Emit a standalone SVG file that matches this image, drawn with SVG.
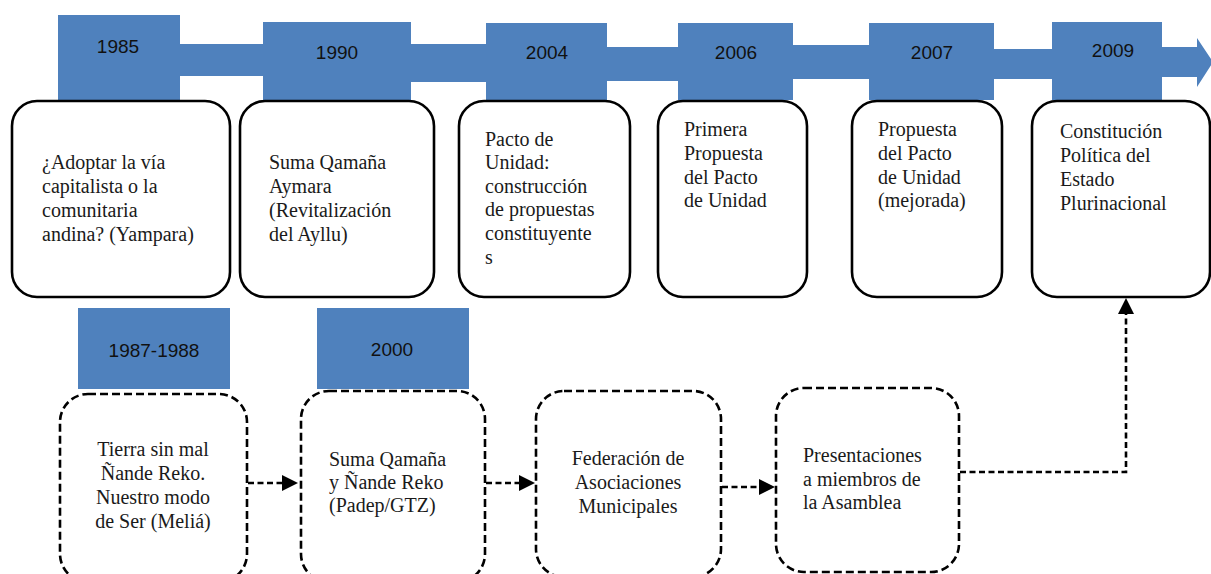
<svg xmlns="http://www.w3.org/2000/svg" width="1211" height="574" viewBox="0 0 1211 574">
<style>
.yr{fill:#4F81BD}
.yt{font-family:"Liberation Sans",Arial,sans-serif;font-size:19px;fill:#111;text-anchor:middle}
.box{fill:#fff;stroke:#000;stroke-width:2.6}
.dbox{fill:#fff;stroke:#000;stroke-width:2.6;stroke-dasharray:8 4}
.t{font-family:"Liberation Serif","Times New Roman",serif;font-size:20px;fill:#1a1a1a}
.c{text-anchor:middle}
.con{fill:none;stroke:#000;stroke-width:2.6;stroke-dasharray:6 3.5}
</style>
<defs>
<marker id="ah" markerUnits="userSpaceOnUse" markerWidth="16" markerHeight="16" refX="0" refY="8" orient="auto">
<path d="M0,0 L16,8 L0,16 z" fill="#000"/>
</marker>
</defs>

<g id="timeline">
<rect class="yr" x="178" y="44" width="88" height="32"/>
<rect class="yr" x="409" y="44" width="80" height="38"/>
<rect class="yr" x="605" y="47" width="75" height="34"/>
<rect class="yr" x="791" y="45" width="80" height="34"/>
<rect class="yr" x="992" y="49" width="62" height="30"/>
<polygon class="yr" points="1160,47 1197,47 1197,38 1213,62 1197,87 1197,77 1160,77"/>
</g>

<g id="y1985"><rect class="yr" x="58" y="15" width="122" height="85"/><text class="yt" x="118" y="53">1985</text></g>
<g id="y1990"><rect class="yr" x="263" y="22" width="148" height="78"/><text class="yt" x="337" y="59">1990</text></g>
<g id="y2004"><rect class="yr" x="486" y="23" width="121" height="77"/><text class="yt" x="547" y="59">2004</text></g>
<g id="y2006"><rect class="yr" x="678" y="23" width="115" height="77"/><text class="yt" x="736" y="59">2006</text></g>
<g id="y2007"><rect class="yr" x="869" y="23" width="125" height="77"/><text class="yt" x="932" y="59">2007</text></g>
<g id="y2009"><rect class="yr" x="1052" y="22" width="110" height="78"/><text class="yt" x="1113" y="57">2009</text></g>
<g id="y1987"><rect class="yr" x="78" y="308" width="152" height="81"/><text class="yt" x="154" y="357">1987-1988</text></g>
<g id="y2000"><rect class="yr" x="317" y="308" width="152" height="81"/><text class="yt" x="392" y="356">2000</text></g>

<g id="n1"><rect class="box" x="12" y="101" width="218" height="196" rx="25"/>
<text class="t" x="42" y="169">¿Adoptar la vía</text>
<text class="t" x="42" y="193">capitalista o la</text>
<text class="t" x="42" y="217">comunitaria</text>
<text class="t" x="42" y="241">andina? (Yampara)</text></g>

<g id="n2"><rect class="box" x="240" y="101" width="194" height="196" rx="25"/>
<text class="t" x="269" y="169">Suma Qamaña</text>
<text class="t" x="269" y="193">Aymara</text>
<text class="t" x="269" y="217">(Revitalización</text>
<text class="t" x="269" y="241">del Ayllu)</text></g>

<g id="n3"><rect class="box" x="459" y="101" width="171" height="196" rx="25"/>
<text class="t" x="485" y="146">Pacto de</text>
<text class="t" x="485" y="169">Unidad:</text>
<text class="t" x="485" y="193">construcción</text>
<text class="t" x="485" y="216">de propuestas</text>
<text class="t" x="485" y="240">constituyente</text>
<text class="t" x="485" y="264">s</text></g>

<g id="n4"><rect class="box" x="658" y="101" width="149" height="196" rx="25"/>
<text class="t" x="684" y="136">Primera</text>
<text class="t" x="684" y="160">Propuesta</text>
<text class="t" x="684" y="184">del Pacto</text>
<text class="t" x="684" y="207">de Unidad</text></g>

<g id="n5"><rect class="box" x="852" y="101" width="150" height="196" rx="25"/>
<text class="t" x="878" y="136">Propuesta</text>
<text class="t" x="878" y="160">del Pacto</text>
<text class="t" x="878" y="184">de Unidad</text>
<text class="t" x="878" y="207">(mejorada)</text></g>

<g id="n6"><rect class="box" x="1032" y="101" width="178" height="196" rx="25"/>
<text class="t" x="1060" y="138">Constitución</text>
<text class="t" x="1060" y="162">Política del</text>
<text class="t" x="1060" y="186">Estado</text>
<text class="t" x="1060" y="210">Plurinacional</text></g>

<g id="d1"><rect class="dbox" x="60" y="394" width="187" height="188" rx="28"/>
<text class="t c" x="153" y="456">Tierra sin mal</text>
<text class="t c" x="153" y="480">Ñande Reko.</text>
<text class="t c" x="153" y="504">Nuestro modo</text>
<text class="t c" x="153" y="528">de Ser (Meliá)</text></g>

<g id="d2"><rect class="dbox" x="301" y="391" width="184" height="191" rx="28"/>
<text class="t" x="329" y="466">Suma Qamaña</text>
<text class="t" x="329" y="489">y Ñande Reko</text>
<text class="t" x="329" y="512">(Padep/GTZ)</text></g>

<g id="d3"><rect class="dbox" x="536" y="391" width="185" height="186" rx="28"/>
<text class="t c" x="628" y="465">Federación de</text>
<text class="t c" x="628" y="489">Asociaciones</text>
<text class="t c" x="628" y="513">Municipales</text></g>

<g id="d4"><rect class="dbox" x="776" y="388" width="183" height="184" rx="28"/>
<text class="t" x="803" y="462">Presentaciones</text>
<text class="t" x="803" y="486">a miembros de</text>
<text class="t" x="803" y="509">la Asamblea</text></g>

<g id="connectors">
<path class="con" d="M248,483 H282" marker-end="url(#ah)"/>
<path class="con" d="M486,483 H519" marker-end="url(#ah)"/>
<path class="con" d="M722,487 H759" marker-end="url(#ah)"/>
<path class="con" d="M960,472 H1126 V314" marker-end="url(#ah)"/>
</g>
</svg>
